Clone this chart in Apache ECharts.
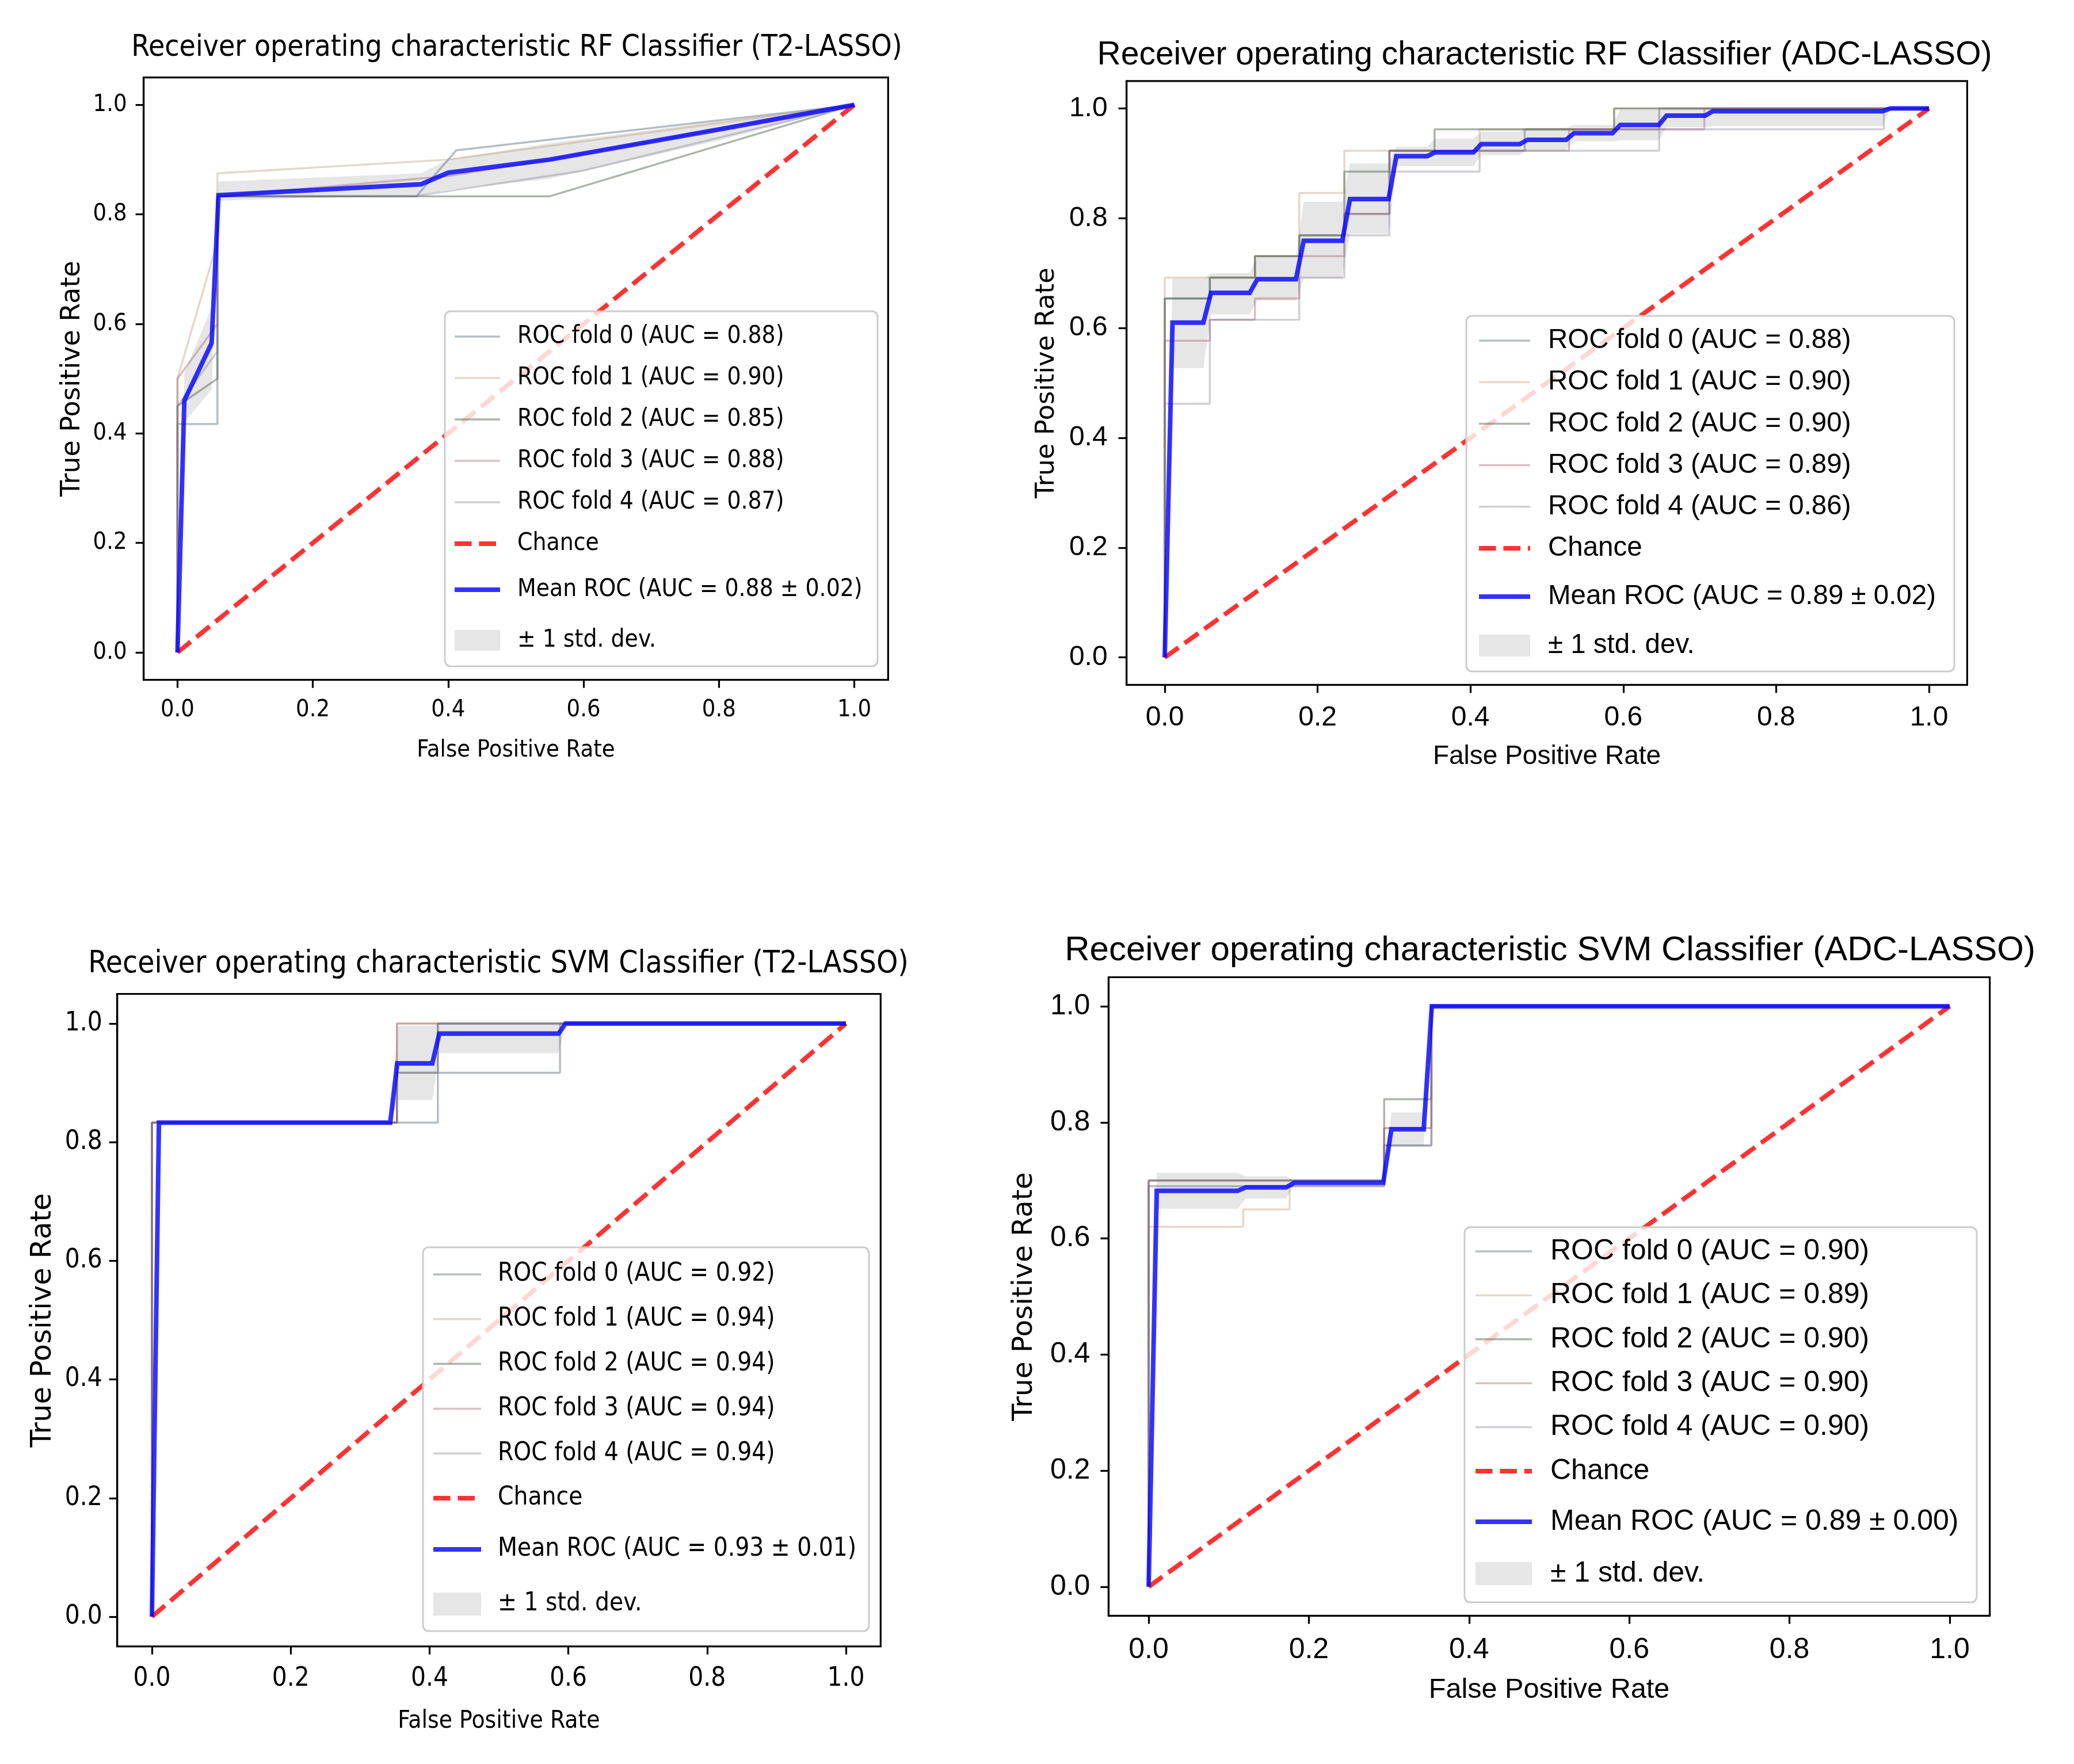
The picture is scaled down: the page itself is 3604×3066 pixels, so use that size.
<!DOCTYPE html>
<html>
<head>
<meta charset="utf-8">
<script src="https://cdn.jsdelivr.net/npm/echarts@6/dist/echarts.min.js"></script>
<style>
html,body{margin:0;padding:0;background:#fff;width:3604px;height:3066px;overflow:hidden}
.p{position:absolute}
</style>
</head>
<body>
<div id="p1" class="p" style="left:0;top:0;width:1800px;height:1450px"></div>
<div id="p2" class="p" style="left:1700px;top:0;width:1904px;height:1450px"></div>
<div id="p3" class="p" style="left:0;top:1450px;width:1800px;height:1616px"></div>
<div id="p4" class="p" style="left:1700px;top:1450px;width:1904px;height:1616px"></div>
<script>
// ---------------- DATA ----------------
const tickValues = [0, 0.2, 0.4, 0.6, 0.8, 1.0];
const tickLabels = ['0.0', '0.2', '0.4', '0.6', '0.8', '1.0'];
const chanceFpr = [0, 1];
const chanceTpr = [0, 1];
const xAxisName = 'False Positive Rate';
const yAxisName = 'True Positive Rate';
const chanceName = 'Chance';
const stdName = '± 1 std. dev.';

// Panel 1: RF, T2-LASSO
const rfT2Title = 'Receiver operating characteristic RF Classifier (T2-LASSO)';
const rfT2FoldAuc = ['0.88', '0.90', '0.85', '0.88', '0.87'];
const rfT2FoldFpr = [
  [0, 0, 0.059, 0.059, 0.353, 0.412, 1],
  [0, 0, 0.059, 0.059, 0.40, 1],
  [0, 0, 0.059, 0.059, 0.55, 1],
  [0, 0, 0.059, 0.059, 0.40, 0.55, 1],
  [0, 0, 0.059, 0.059, 0.35, 0.60, 1]
];
const rfT2FoldTpr = [
  [0, 0.417, 0.417, 0.833, 0.833, 0.917, 1],
  [0, 0.50, 0.75, 0.875, 0.90, 1],
  [0, 0.45, 0.50, 0.833, 0.833, 1],
  [0, 0.50, 0.60, 0.833, 0.87, 0.90, 1],
  [0, 0.45, 0.55, 0.833, 0.833, 0.88, 1]
];
const rfT2MeanLabel = 'Mean ROC (AUC = 0.88 ± 0.02)';
const rfT2MeanFpr = [0, 0.0101, 0.0505, 0.0606, 0.36, 0.40, 0.55, 0.80, 1];
const rfT2MeanTpr = [0, 0.46, 0.565, 0.835, 0.855, 0.876, 0.90, 0.955, 1];
const rfT2StdUpper = [0, 0.51, 0.63, 0.86, 0.875, 0.90, 0.93, 0.97, 1];
const rfT2StdLower = [0, 0.42, 0.48, 0.825, 0.835, 0.845, 0.865, 0.935, 1];

// Panel 2: RF, ADC-LASSO
const rfAdcTitle = 'Receiver operating characteristic RF Classifier (ADC-LASSO)';
const rfAdcFoldAuc = ['0.88', '0.90', '0.90', '0.89', '0.86'];
const rfAdcFoldFpr = [0, 0, 0.059, 0.118, 0.176, 0.235, 0.294, 0.353, 0.412, 0.471, 0.529, 0.588, 0.647, 0.706, 0.941, 1];
const rfAdcFoldTpr = [
  [0, 0.654, 0.692, 0.731, 0.769, 0.808, 0.923, 0.923, 0.923, 0.962, 0.962, 0.962, 1, 1, 1, 1],
  [0, 0.692, 0.692, 0.731, 0.846, 0.923, 0.923, 0.923, 0.962, 0.962, 0.962, 1, 1, 1, 1, 1],
  [0, 0.654, 0.692, 0.731, 0.769, 0.885, 0.923, 0.962, 0.962, 0.962, 0.962, 1, 1, 1, 1, 1],
  [0, 0.577, 0.615, 0.654, 0.731, 0.808, 0.923, 0.923, 0.923, 0.923, 0.962, 0.962, 0.962, 1, 1, 1],
  [0, 0.462, 0.615, 0.615, 0.692, 0.769, 0.885, 0.885, 0.923, 0.923, 0.923, 0.923, 0.962, 0.962, 1, 1]
];
const rfAdcMeanLabel = 'Mean ROC (AUC = 0.89 ± 0.02)';
const rfAdcMeanFpr = [0, 0.0101, 0.0505, 0.0606, 0.1111, 0.1212, 0.1717, 0.1818, 0.2323, 0.2424, 0.2929, 0.3030, 0.3434, 0.3535, 0.4040, 0.4141, 0.4646, 0.4747, 0.5253, 0.5354, 0.5859, 0.5960, 0.6465, 0.6566, 0.7071, 0.7172, 0.9394, 0.9495, 1];
const rfAdcMeanTpr = [0, 0.61, 0.61, 0.664, 0.664, 0.689, 0.689, 0.759, 0.759, 0.835, 0.835, 0.913, 0.913, 0.92, 0.92, 0.935, 0.935, 0.943, 0.943, 0.955, 0.955, 0.97, 0.97, 0.987, 0.987, 0.995, 0.995, 1, 1];
const rfAdcStdUpper = [0, 0.69, 0.69, 0.70, 0.70, 0.73, 0.73, 0.83, 0.83, 0.90, 0.90, 0.93, 0.93, 0.945, 0.945, 0.958, 0.958, 0.965, 0.965, 0.97, 0.97, 0.998, 0.998, 1, 1, 1, 1, 1, 1];
const rfAdcStdLower = [0, 0.527, 0.527, 0.625, 0.625, 0.65, 0.65, 0.69, 0.69, 0.772, 0.772, 0.895, 0.895, 0.895, 0.895, 0.915, 0.915, 0.925, 0.925, 0.94, 0.94, 0.942, 0.942, 0.966, 0.966, 0.968, 0.968, 1, 1];

// Panel 3: SVM, T2-LASSO
const svmT2Title = 'Receiver operating characteristic SVM Classifier (T2-LASSO)';
const svmT2FoldAuc = ['0.92', '0.94', '0.94', '0.94', '0.94'];
const svmT2FoldFpr = [0, 0, 0.353, 0.412, 0.588, 1];
const svmT2FoldTpr = [
  [0, 0.833, 0.833, 0.917, 1, 1],
  [0, 0.833, 1, 1, 1, 1],
  [0, 0.833, 0.917, 1, 1, 1],
  [0, 0.833, 1, 1, 1, 1],
  [0, 0.833, 0.917, 1, 1, 1]
];
const svmT2MeanLabel = 'Mean ROC (AUC = 0.93 ± 0.01)';
const svmT2MeanFpr = [0, 0.0101, 0.3434, 0.3535, 0.4040, 0.4141, 0.5859, 0.5960, 1];
const svmT2MeanTpr = [0, 0.833, 0.833, 0.933, 0.933, 0.983, 0.983, 1, 1];
const svmT2StdUpper = [0, 0.833, 0.833, 0.996, 0.996, 1, 1, 1, 1];
const svmT2StdLower = [0, 0.833, 0.833, 0.871, 0.871, 0.95, 0.95, 1, 1];

// Panel 4: SVM, ADC-LASSO
const svmAdcTitle = 'Receiver operating characteristic SVM Classifier (ADC-LASSO)';
const svmAdcFoldAuc = ['0.90', '0.89', '0.90', '0.90', '0.90'];
const svmAdcFoldFpr = [0, 0, 0.118, 0.176, 0.294, 0.353, 1];
const svmAdcFoldTpr = [
  [0, 0.69, 0.69, 0.69, 0.76, 1, 1],
  [0, 0.62, 0.65, 0.69, 0.79, 1, 1],
  [0, 0.70, 0.70, 0.70, 0.84, 1, 1],
  [0, 0.70, 0.70, 0.70, 0.79, 1, 1],
  [0, 0.70, 0.70, 0.70, 0.76, 1, 1]
];
const svmAdcMeanLabel = 'Mean ROC (AUC = 0.89 ± 0.00)';
const svmAdcMeanFpr = [0, 0.0101, 0.1111, 0.1212, 0.1717, 0.1818, 0.2929, 0.3030, 0.3434, 0.3535, 1];
const svmAdcMeanTpr = [0, 0.682, 0.682, 0.688, 0.688, 0.696, 0.696, 0.788, 0.788, 1, 1];
const svmAdcStdUpper = [0, 0.713, 0.713, 0.707, 0.707, 0.70, 0.70, 0.817, 0.817, 1, 1];
const svmAdcStdLower = [0, 0.651, 0.651, 0.669, 0.669, 0.692, 0.692, 0.759, 0.759, 1, 1];

// ---------------- FONTS ----------------
function fontAvailable(name) {
  const ctx = document.createElement('canvas').getContext('2d');
  const s = 'ROC fold 0 (AUC = 0.88) Receiver operating';
  for (const base of ['monospace', 'serif']) {
    ctx.font = '60px ' + base; const a = ctx.measureText(s).width;
    ctx.font = '60px "' + name + '", ' + base; const b = ctx.measureText(s).width;
    if (Math.abs(a - b) > 0.5) return true;
  }
  return false;
}
function measure(font, s) {
  const ctx = document.createElement('canvas').getContext('2d');
  ctx.font = font; return ctx.measureText(s).width;
}
const REG = '"Liberation Sans", Arial, sans-serif';
let NARROW = REG;
for (const n of ['Liberation Sans Narrow', 'Arial Narrow', 'DejaVu Sans Condensed']) {
  if (fontAvailable(n)) { NARROW = '"' + n + '", ' + REG; break; }
}
// width-matched scales
const NSCALE = 909.1 / measure('100px ' + NARROW, 'ROC fold 0 (AUC = 0.88)');
const RSCALE = 1108.7 / measure('100px ' + REG, 'ROC fold 0 (AUC = 0.88)');
const YFONT = '"DejaVu Sans", sans-serif';

// ---------------- STYLE / LAYOUT ----------------
const foldColors = ['rgba(70,90,110,0.40)', 'rgba(190,155,120,0.40)', 'rgba(70,90,70,0.45)', 'rgba(160,95,105,0.40)', 'rgba(130,120,145,0.36)'];
const foldWidth = 3.5;
const meanColor = 'rgba(0,0,255,0.8)';
const meanWidth = 8;
const chanceColor = 'rgba(255,0,0,0.8)';
const chanceWidth = 8;
const stdColor = 'rgba(128,128,128,0.2)';

const panels = [
  { id: 'p1', narrow: true, title: rfT2Title, auc: rfT2FoldAuc, foldFpr: rfT2FoldFpr, foldTpr: rfT2FoldTpr, step: false,
    meanLabel: rfT2MeanLabel, meanFpr: rfT2MeanFpr, meanTpr: rfT2MeanTpr, upper: rfT2StdUpper, lower: rfT2StdLower,
    grid: { left: 249.6, top: 134.6, width: 1293.7, height: 1047 },
    t: { cx: 898, top: 58.5, fs: 62 }, tickFs: 50, xLM: 31.7, yLM: 29, nameFs: 50, xNG: 101.7, yNameFs: 46, yNG: 100.3,
    lg: { frame: [773, 541, 752, 617], iconX: 786, itemW: 79, textPad: 25, fs: 51, topA: 549, LA: 72, topB: 981, LB: 88, patchH: 36 } },
  { id: 'p2', narrow: false, title: rfAdcTitle, auc: rfAdcFoldAuc, foldFpr: [rfAdcFoldFpr, rfAdcFoldFpr, rfAdcFoldFpr, rfAdcFoldFpr, rfAdcFoldFpr], foldTpr: rfAdcFoldTpr, step: true,
    meanLabel: rfAdcMeanLabel, meanFpr: rfAdcMeanFpr, meanTpr: rfAdcMeanTpr, upper: rfAdcStdUpper, lower: rfAdcStdLower,
    grid: { left: 257.6, top: 140.8, width: 1460.8, height: 1049.6 },
    t: { cx: 984, top: 68.2, fs: 57 }, tickFs: 48, xLM: 33, yLM: 33, nameFs: 46, xNG: 102.3, yNameFs: 45, yNG: 115.5,
    lg: { frame: [848, 549, 848, 618], iconX: 866, itemW: 89, textPad: 26, fs: 47.5, topA: 555.9, LA: 72.2, topB: 994.5, LB: 85, patchH: 38 } },
  { id: 'p3', narrow: true, title: svmT2Title, auc: svmT2FoldAuc, foldFpr: [svmT2FoldFpr, svmT2FoldFpr, svmT2FoldFpr, svmT2FoldFpr, svmT2FoldFpr], foldTpr: svmT2FoldTpr, step: true,
    meanLabel: svmT2MeanLabel, meanFpr: svmT2MeanFpr, meanTpr: svmT2MeanTpr, upper: svmT2StdUpper, lower: svmT2StdLower,
    grid: { left: 203.7, top: 277.5, width: 1326.6, height: 1134.1 },
    t: { cx: 866, top: 199.5, fs: 64 }, tickFs: 55, xLM: 33.8, yLM: 26, nameFs: 51, xNG: 109.6, yNameFs: 49.6, yNG: 103.7,
    lg: { frame: [735, 718, 775, 667], iconX: 749, itemW: 83, textPad: 24, fs: 53, topA: 726.1, LA: 77.8, topB: 1195.5, LB: 95, patchH: 40 } },
  { id: 'p4', narrow: false, title: svmAdcTitle, auc: svmAdcFoldAuc, foldFpr: [svmAdcFoldFpr, svmAdcFoldFpr, svmAdcFoldFpr, svmAdcFoldFpr, svmAdcFoldFpr], foldTpr: svmAdcFoldTpr, step: true,
    meanLabel: svmAdcMeanLabel, meanFpr: svmAdcMeanFpr, meanTpr: svmAdcMeanTpr, upper: svmAdcStdUpper, lower: svmAdcStdLower,
    grid: { left: 226.4, top: 248.5, width: 1531.2, height: 1109.9 },
    t: { cx: 993.6, top: 172.9, fs: 60 }, tickFs: 50, xLM: 35, yLM: 32, nameFs: 48.6, xNG: 105, yNameFs: 48.5, yNG: 121.6,
    lg: { frame: [845, 683, 890, 652], iconX: 860, itemW: 98, textPad: 27, fs: 50, topA: 686.8, LA: 76.4, topB: 1150, LB: 90, patchH: 40 } }
];

function tickFormatter(v) {
  const i = tickValues.findIndex(t => Math.abs(t - v) < 1e-9);
  return i >= 0 ? tickLabels[i] : '';
}

function axisCommon(P, fam, sc) {
  return {
    type: 'value', min: -0.05, max: 1.05,
    splitLine: { show: false },
    axisLine: { show: true, onZero: false, lineStyle: { color: '#000', width: 3.2 } },
    axisTick: { show: true, inside: false, length: 14, customValues: tickValues, lineStyle: { color: '#000', width: 3.2 } },
    axisLabel: { customValues: tickValues, formatter: tickFormatter, fontFamily: fam, fontSize: P.tickFs * sc, color: '#000' },
    nameLocation: 'middle'
  };
}

function buildOption(P) {
  const fam = P.narrow ? NARROW : REG;
  const sc = P.narrow ? NSCALE : RSCALE;
  const series = [];
  const foldNames = [];
  P.foldFpr.forEach((fx, i) => {
    const name = 'ROC fold ' + i + ' (AUC = ' + P.auc[i] + ')';
    foldNames.push(name);
    series.push({
      type: 'line', name: name, step: P.step ? 'end' : false,
      data: fx.map((x, j) => [x, P.foldTpr[i][j]]),
      symbol: 'none', showSymbol: false, silent: true,
      lineStyle: { color: foldColors[i], width: foldWidth }, itemStyle: { color: foldColors[i] }, z: 2
    });
  });
  series.push({
    type: 'line', name: chanceName, data: chanceFpr.map((x, j) => [x, chanceTpr[j]]),
    symbol: 'none', showSymbol: false, silent: true,
    lineStyle: { color: chanceColor, width: chanceWidth, type: [29.6, 12.8] }, itemStyle: { color: chanceColor }, z: 2
  });
  series.push({
    type: 'line', name: P.meanLabel, data: P.meanFpr.map((x, j) => [x, P.meanTpr[j]]),
    symbol: 'none', showSymbol: false, silent: true,
    lineStyle: { color: meanColor, width: meanWidth, join: 'miter' }, itemStyle: { color: meanColor }, z: 2
  });
  series.push({
    type: 'custom', name: stdName, coordinateSystem: 'cartesian2d', silent: true, clip: true,
    data: P.meanFpr.map((x, j) => [x, P.lower[j], P.upper[j]]),
    encode: { x: 0, y: [1, 2] },
    itemStyle: { color: stdColor }, z: 2,
    renderItem: function (params, api) {
      if (params.dataIndex !== 0) return;
      const pts = [];
      for (let j = 0; j < P.meanFpr.length; j++) pts.push(api.coord([P.meanFpr[j], P.upper[j]]));
      for (let j = P.meanFpr.length - 1; j >= 0; j--) pts.push(api.coord([P.meanFpr[j], P.lower[j]]));
      return { type: 'polygon', shape: { points: pts }, style: { fill: stdColor } };
    }
  });

  const L = P.lg;
  const legendText = (lh) => ({ fontFamily: fam, fontSize: L.fs * sc, color: '#000', lineHeight: lh, padding: [0, 0, 0, L.textPad] });
  const xAxis = Object.assign(axisCommon(P, fam, sc), {
    name: xAxisName, nameGap: P.xNG, nameTextStyle: { fontFamily: fam, fontSize: P.nameFs * sc, color: '#000' }
  });
  xAxis.axisLabel.margin = P.xLM;
  const yAxis = Object.assign(axisCommon(P, fam, sc), {
    name: yAxisName, nameGap: P.yNG, nameTextStyle: { fontFamily: YFONT, fontSize: P.yNameFs, color: '#000' }
  });
  yAxis.axisLabel.margin = P.yLM;

  const hideSym = { opacity: 0 };
  const legendA = foldNames.map(n => ({ name: n, itemStyle: hideSym, lineStyle: { width: foldWidth } }));
  legendA.push({ name: chanceName, itemStyle: hideSym, lineStyle: { width: chanceWidth, type: [29.6, 12.8] } });
  return {
    animation: false,
    backgroundColor: 'transparent',
    title: {
      text: P.title, left: P.t.cx, top: P.t.top, textAlign: 'center', padding: 0,
      textStyle: { fontFamily: fam, fontSize: P.t.fs * sc, fontWeight: 'normal', color: '#000' }
    },
    grid: Object.assign({ show: true, borderColor: '#000', borderWidth: 3.2, backgroundColor: 'transparent', containLabel: false, outerBoundsMode: 'none' }, P.grid),
    xAxis: xAxis,
    yAxis: yAxis,
    legend: [
      { orient: 'vertical', left: L.iconX, top: L.topA, padding: 0, itemGap: 0, itemWidth: L.itemW, itemHeight: 14,
        selectedMode: false, z: 20, textStyle: legendText(L.LA), itemStyle: hideSym, data: legendA },
      { orient: 'vertical', left: L.iconX, top: L.topB, padding: 0, itemGap: 0, itemWidth: L.itemW, itemHeight: L.patchH,
        selectedMode: false, z: 20, textStyle: legendText(L.LB),
        data: [{ name: P.meanLabel, itemStyle: hideSym, lineStyle: { width: meanWidth } },
               { name: stdName, icon: 'rect', itemStyle: { color: stdColor, opacity: 1 } }] }
    ],
    graphic: [{
      type: 'rect', z: 10, silent: true,
      shape: { x: L.frame[0], y: L.frame[1], width: L.frame[2], height: L.frame[3], r: 10 },
      style: { fill: 'rgba(255,255,255,0.8)', stroke: '#cccccc', lineWidth: 3 }
    }],
    series: series
  };
}

panels.forEach(P => {
  const chart = echarts.init(document.getElementById(P.id), null, { renderer: 'canvas' });
  chart.setOption(buildOption(P));
});
</script>
</body>
</html>
